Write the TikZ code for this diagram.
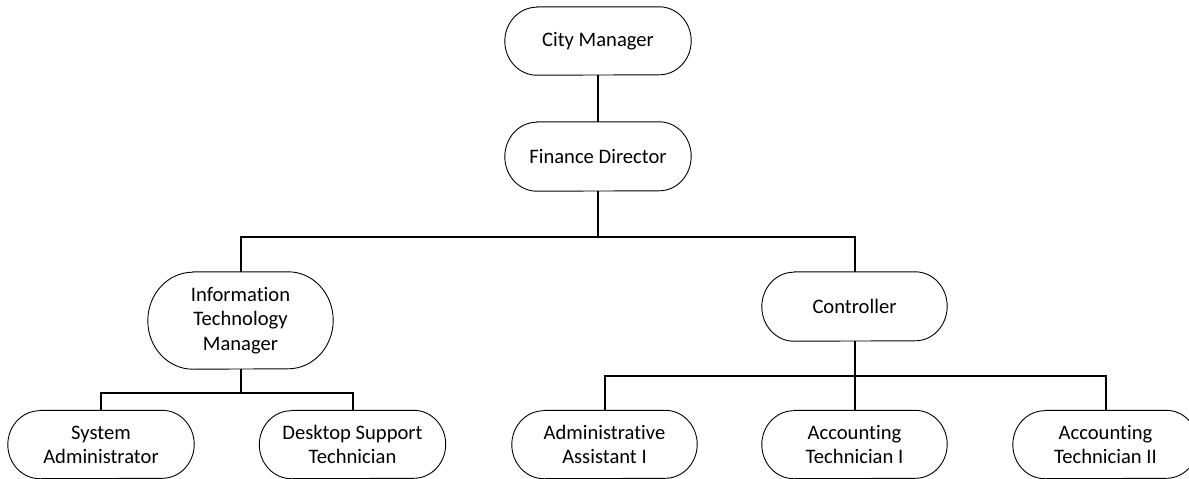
\documentclass[tikz,border=0pt]{standalone}
\usepackage{fontspec}
\setmainfont[Ligatures={NoCommon}]{Carlito}
\newcommand\pillbox[3]{%
  \draw[pill] ([xshift=#2pt]#1.north west) -- ([xshift=-#2pt]#1.north east)
    arc[start angle=90, end angle=-90, x radius=#2pt, y radius=#3pt]
    -- ([xshift=#2pt]#1.south west)
    arc[start angle=270, end angle=90, x radius=#2pt, y radius=#3pt] -- cycle;}
\begin{document}
\begin{tikzpicture}[x=1pt,y=-1pt,
  box/.style={draw=none, align=center, inner sep=0pt, minimum width=186pt, minimum height=68pt,
              font=\fontsize{20.6}{24.2}\selectfont},
  pill/.style={draw=black, line width=0.9pt},
  conn/.style={draw=black, line width=2pt}]
\useasboundingbox (0,0) rectangle (1189,479);
% nodes
\node[box] (cm)  at (598,41)    {City Manager};
\node[box, minimum height=69pt] (fd)  at (598,156.5) {Finance Director};
\node[box, minimum width=185pt, minimum height=97pt] (itm) at (240.5,320.5) {Information\\Technology\\Manager};
\node[box, minimum width=185pt, minimum height=69pt] (ctl) at (854.5,306.5) {Controller};
\node[box] (sa)  at (101,444.5)   {System\\Administrator};
\node[box] (dst) at (352.5,444.5) {Desktop Support\\Technician};
\node[box, minimum width=185pt] (aa)  at (604.5,444.5) {Administrative\\Assistant I};
\node[box, minimum width=185pt] (at1) at (854.5,444.5) {Accounting\\Technician I};
\node[box, minimum width=185pt] (at2) at (1105.5,444.5) {Accounting\\Technician II};
% outlines
\pillbox{cm}{32}{34}
\pillbox{fd}{32}{34.5}
\pillbox{itm}{45}{48.5}
\pillbox{ctl}{32}{34.5}
\pillbox{sa}{32}{34}
\pillbox{dst}{32}{34}
\pillbox{aa}{32}{34}
\pillbox{at1}{32}{34}
\pillbox{at2}{32}{34}
% bus levels
\coordinate (busA) at (0,237);
\coordinate (busB) at (0,393);
\coordinate (busC) at (0,376);
% connectors
\draw[conn] (cm.south) -- (fd.north);
\draw[conn] (fd.south) -- (fd.south |- busA) -| (itm.north);
\draw[conn] (fd.south |- busA) -| (ctl.north);
\draw[conn] (itm.south) -- (itm.south |- busB) -| (sa.north);
\draw[conn] (itm.south |- busB) -| (dst.north);
\draw[conn] (ctl.south) -- (at1.north);
\draw[conn] (ctl.south |- busC) -| (aa.north);
\draw[conn] (ctl.south |- busC) -| (at2.north);
\end{tikzpicture}
\end{document}
